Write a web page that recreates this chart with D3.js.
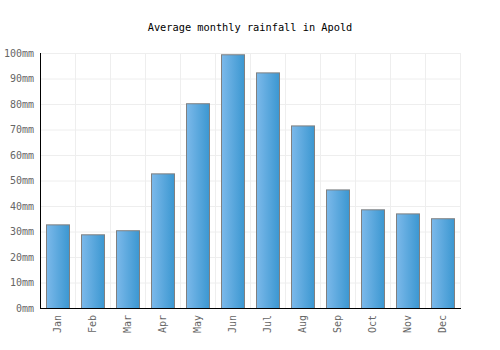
<!DOCTYPE html>
<html>
<head>
<meta charset="utf-8">
<script src="https://cdn.jsdelivr.net/npm/d3@7"></script>
<style>
  body { margin: 0; background: #fff; }
  text { font-family: "DejaVu Sans Mono", monospace; }
</style>
</head>
<body>
<div id="chart"></div>
<script>
var months = ["Jan", "Feb", "Mar", "Apr", "May", "Jun", "Jul", "Aug", "Sep", "Oct", "Nov", "Dec"];
var rainfall = [32.8, 28.9, 30.5, 52.8, 80.3, 99.5, 92.4, 71.6, 46.5, 38.7, 37.1, 35.2];
var yTicks = [0, 10, 20, 30, 40, 50, 60, 70, 80, 90, 100];

function init() {

    var w = 500;
    var h = 350;
    var left = 40, right = 460, top = 53, bottom = 308;

    var svg = d3.select("#chart")
                .append("svg")
                .attr("width", w)
                .attr("height", h);

    var grad = svg.append("defs")
                  .append("linearGradient")
                  .attr("id", "barGrad")
                  .attr("x1", "0%").attr("x2", "100%")
                  .attr("y1", "0%").attr("y2", "0%");
    grad.append("stop").attr("offset", "0%").attr("stop-color", "#7cb9ea");
    grad.append("stop").attr("offset", "100%").attr("stop-color", "#3b97d1");

    var xScale = d3.scaleBand()
                   .domain(months)
                   .range([left, right])
                   .paddingInner(0.33)
                   .paddingOuter(0.17);

    var yScale = d3.scaleLinear()
                   .domain([0, 100])
                   .range([bottom, top]);

    // grid
    svg.append("g")
       .selectAll("line.h")
       .data(yTicks)
       .enter()
       .append("line")
       .attr("x1", left).attr("x2", right)
       .attr("y1", function(d) { return yScale(d) + 0.5; })
       .attr("y2", function(d) { return yScale(d) + 0.5; })
       .attr("stroke", "#eeeeee");

    svg.append("g")
       .selectAll("line.v")
       .data(d3.range(months.length + 1))
       .enter()
       .append("line")
       .attr("x1", function(i) { return left + i * (right - left) / months.length + 0.5; })
       .attr("x2", function(i) { return left + i * (right - left) / months.length + 0.5; })
       .attr("y1", top).attr("y2", bottom)
       .attr("stroke", "#eeeeee");

    // bars
    svg.append("g")
       .selectAll("rect")
       .data(rainfall)
       .enter()
       .append("rect")
       .attr("x", function(d, i) { return Math.round(xScale(months[i])) + 0.5; })
       .attr("y", function(d) { return yScale(d) + 0.5; })
       .attr("width", Math.round(xScale.bandwidth()))
       .attr("height", function(d) { return bottom - yScale(d); })
       .attr("fill", "url(#barGrad)")
       .attr("stroke", "#808080")
       .attr("stroke-width", 1);

    // axes
    var yAxis = d3.axisLeft(yScale)
                  .tickValues(yTicks)
                  .tickSize(0)
                  .tickPadding(6)
                  .tickFormat(function(d) { return d + "mm"; });

    var gy = svg.append("g")
                .attr("transform", "translate(" + left + ", 0)")
                .call(yAxis);
    gy.select(".domain").remove();
    gy.selectAll("text").attr("fill", "#666").style("font-size", "10px");

    var xAxis = d3.axisBottom(xScale).tickSize(0);
    var gx = svg.append("g")
                .attr("transform", "translate(0, " + bottom + ")")
                .call(xAxis);
    gx.select(".domain").remove();
    gx.selectAll("text")
      .attr("fill", "#666")
      .style("font-size", "10px")
      .attr("transform", "rotate(-90)")
      .attr("text-anchor", "end")
      .attr("x", -7)
      .attr("y", 0)
      .attr("dy", "0.35em");

    svg.append("line")
       .attr("x1", left + 0.5).attr("x2", left + 0.5)
       .attr("y1", top).attr("y2", bottom + 1)
       .attr("stroke", "#000");
    svg.append("line")
       .attr("x1", left).attr("x2", right + 1)
       .attr("y1", bottom + 0.5).attr("y2", bottom + 0.5)
       .attr("stroke", "#000");

    svg.append("text")
       .attr("x", w / 2)
       .attr("y", 31)
       .attr("text-anchor", "middle")
       .style("font-size", "10.3px")
       .attr("fill", "#000")
       .text("Average monthly rainfall in Apold");
}

window.onload = init;
</script>
</body>
</html>
